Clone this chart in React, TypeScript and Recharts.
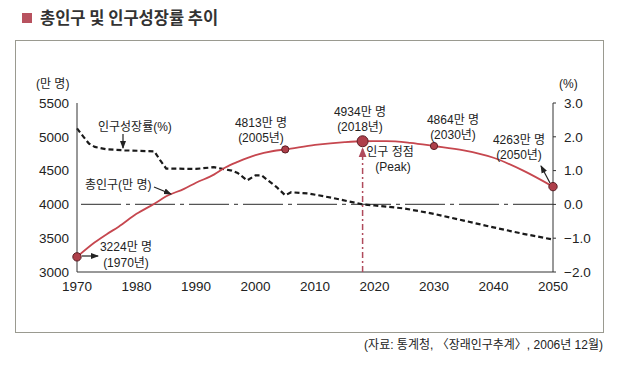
import {
  LineChart,
  Line,
  XAxis,
  YAxis,
  ReferenceLine,
  ReferenceDot,
} from "recharts";

// 연도 눈금과 축 눈금
const yearTicks = [1970, 1980, 1990, 2000, 2010, 2020, 2030, 2040, 2050];
const popTicks = [3000, 3500, 4000, 4500, 5000, 5500];
const rateTicks = [-2, -1, 0, 1, 2, 3];

// 총인구(만 명)
const popYears = [
  1970, 1973, 1975, 1977, 1980, 1983, 1985, 1988, 1990, 1993, 1995, 1997,
  2000, 2003, 2005, 2010, 2015, 2018, 2022, 2026, 2030, 2035, 2040, 2045, 2050,
];
const popValues = [
  3224, 3440, 3560, 3670, 3860, 4010, 4120, 4230, 4320, 4440, 4550, 4630,
  4730, 4790, 4813, 4880, 4922, 4934, 4935, 4910, 4864, 4800, 4690, 4500, 4263,
];

// 인구성장률(%)
const rateYears = [
  1970, 1971, 1972, 1973, 1975, 1978, 1983, 1984, 1985, 1990, 1993, 1996,
  1997, 1998.6, 2000, 2001, 2003.5, 2005, 2006, 2009, 2013, 2018, 2020, 2025,
  2030, 2035, 2040, 2045, 2050,
];
const rateValues = [
  2.25, 2.02, 1.8, 1.7, 1.63, 1.6, 1.57, 1.3, 1.06, 1.05, 1.1, 1.0, 0.93,
  0.71, 0.86, 0.86, 0.52, 0.27, 0.36, 0.32, 0.19, 0.0, -0.03, -0.12, -0.28,
  -0.48, -0.68, -0.87, -1.04,
];

// 표시된 주요 시점
const markYears = [1970, 2005, 2018, 2030, 2050];
const markValues = [3224, 4813, 4934, 4864, 4263];

const popData = popYears.map((year, i) => ({ year, pop: popValues[i] }));
const rateData = rateYears.map((year, i) => ({ year, rate: rateValues[i] }));

const W = 620;
const H = 365;
const PLOT = { left: 77, right: 553, top: 103, bottom: 272 };
const FONT = "'Liberation Sans', Arial, 'Noto Sans CJK KR', sans-serif";
const RED = "#c6474f";
const DOT = "#ae3f4a";

// overlay 위치 계산용 (차트 축과 같은 범위)
const xs = (year: number) =>
  PLOT.left + ((year - 1970) / 80) * (PLOT.right - PLOT.left);
const yPop = (v: number) =>
  PLOT.bottom - ((v - 3000) / 2500) * (PLOT.bottom - PLOT.top);

function Overlay() {
  const txt = { fontFamily: FONT, fontSize: 12, fill: "#222" } as const;
  const peakX = xs(2018);
  const peakY = yPop(4934);
  return (
    <svg
      width={W}
      height={H}
      style={{ position: "absolute", left: 0, top: 0, pointerEvents: "none" }}
    >
      <defs>
        <marker id="ah" markerWidth="8" markerHeight="8" refX="7" refY="4" orient="auto" markerUnits="userSpaceOnUse">
          <path d="M0,1 L8,4 L0,7 Z" fill="#222" />
        </marker>
        <marker id="ahr" markerWidth="10" markerHeight="10" refX="9" refY="5" orient="auto" markerUnits="userSpaceOnUse">
          <path d="M0,1 L10,5 L0,9 Z" fill="#b04a5c" />
        </marker>
      </defs>
      <rect x={15.5} y={40.5} width={588} height={292} fill="none" stroke="#9a9a90" />

      {/* 제목 */}
      <rect x={22} y={13} width={10} height={10} fill="#b8525f" />
      <text x={40} y={24} fontFamily="'Noto Sans CJK KR', sans-serif" fontSize={16.5} fontWeight={700} fill="#333">
        총인구 및 인구성장률 추이
      </text>

      {/* 단위 */}
      <text x={36} y={88} {...txt}>(만 명)</text>
      <text x={559} y={88} {...txt}>(%)</text>

      {/* 설명 */}
      <text x={98} y={131} {...txt}>인구성장률(%)</text>
      <line x1={123} y1={134} x2={123} y2={148} stroke="#222" strokeWidth={1.2} markerEnd="url(#ah)" />
      <text x={85} y={189} {...txt}>총인구(만 명)</text>
      <line x1={154} y1={187} x2={171} y2={194} stroke="#222" strokeWidth={1.2} markerEnd="url(#ah)" />

      <text x={126} y={251} textAnchor="middle" {...txt}>3224만 명</text>
      <text x={126} y={267} textAnchor="middle" {...txt}>(1970년)</text>
      <line x1={82} y1={256} x2={98} y2={256} stroke="#222" strokeWidth={1.2} markerEnd="url(#ah)" />

      <text x={261} y={127} textAnchor="middle" {...txt}>4813만 명</text>
      <text x={261} y={142} textAnchor="middle" {...txt}>(2005년)</text>

      <text x={360} y={116} textAnchor="middle" {...txt}>4934만 명</text>
      <text x={360} y={131} textAnchor="middle" {...txt}>(2018년)</text>

      <text x={453} y={124} textAnchor="middle" {...txt}>4864만 명</text>
      <text x={453} y={139} textAnchor="middle" {...txt}>(2030년)</text>

      <text x={519} y={144} textAnchor="middle" {...txt}>4263만 명</text>
      <text x={519} y={159} textAnchor="middle" {...txt}>(2050년)</text>
      <line x1={550} y1={183} x2={541} y2={166} stroke="#222" strokeWidth={1.2} markerEnd="url(#ah)" />

      {/* 인구 정점 */}
      <line
        x1={peakX}
        y1={PLOT.bottom}
        x2={peakX}
        y2={peakY + 7}
        stroke="#b04a5c"
        strokeWidth={1.5}
        strokeDasharray="6 3 2 3"
        markerEnd="url(#ahr)"
      />
      <text x={390} y={156} textAnchor="middle" {...txt}>인구 정점</text>
      <text x={393} y={171} textAnchor="middle" {...txt}>(Peak)</text>

      <text x={603} y={349} textAnchor="end" {...txt}>
        (자료: 통계청, 〈장래인구추계〉, 2006년 12월)
      </text>
    </svg>
  );
}

export default function App() {
  const tick = { fontFamily: FONT, fontSize: 13.5, fill: "#222" };
  return (
    <div style={{ position: "fixed", left: 0, top: 0, width: W, height: H, background: "#fff" }}>
      <LineChart
        width={W}
        height={H}
        margin={{ top: PLOT.top, right: W - PLOT.right - 40, bottom: H - PLOT.bottom - 30, left: PLOT.left - 40 }}
      >
        <XAxis
          dataKey="year"
          type="number"
          domain={[1970, 2050]}
          ticks={yearTicks}
          height={30}
          stroke="#333"
          tick={tick}
          tickLine={false}
          tickMargin={3}
          allowDuplicatedCategory={false}
        />
        <YAxis
          yAxisId="left"
          orientation="left"
          domain={[3000, 5500]}
          ticks={popTicks}
          width={40}
          stroke="#333"
          tick={tick}
          tickLine={false}
        />
        <YAxis
          yAxisId="right"
          orientation="right"
          domain={[-2, 3]}
          ticks={rateTicks}
          width={40}
          stroke="#333"
          tick={tick}
          tickSize={3}
          tickMargin={8}
          tickFormatter={(v: number) => (v < 0 ? "\u2212" + Math.abs(v).toFixed(1) : v.toFixed(1))}
        />
        <ReferenceLine yAxisId="right" y={0} stroke="#555" strokeWidth={1.2} strokeDasharray="40 5 4 5" />
        <Line
          yAxisId="right"
          data={rateData}
          dataKey="rate"
          type="linear"
          stroke="#1a1a1a"
          strokeWidth={2.2}
          strokeDasharray="5 3"
          dot={false}
          isAnimationActive={false}
        />
        <Line
          yAxisId="left"
          data={popData}
          dataKey="pop"
          type="monotone"
          stroke={RED}
          strokeWidth={1.8}
          dot={false}
          isAnimationActive={false}
        />
        {markYears.map((year, i) => (
          <ReferenceDot
            key={year}
            yAxisId="left"
            x={year}
            y={markValues[i]}
            r={year === 2018 ? 5.5 : year === 1970 || year === 2050 ? 4.2 : 3.6}
            fill={DOT}
            stroke="#5a1f25"
            strokeWidth={1}
          />
        ))}
      </LineChart>
      <Overlay />
    </div>
  );
}
